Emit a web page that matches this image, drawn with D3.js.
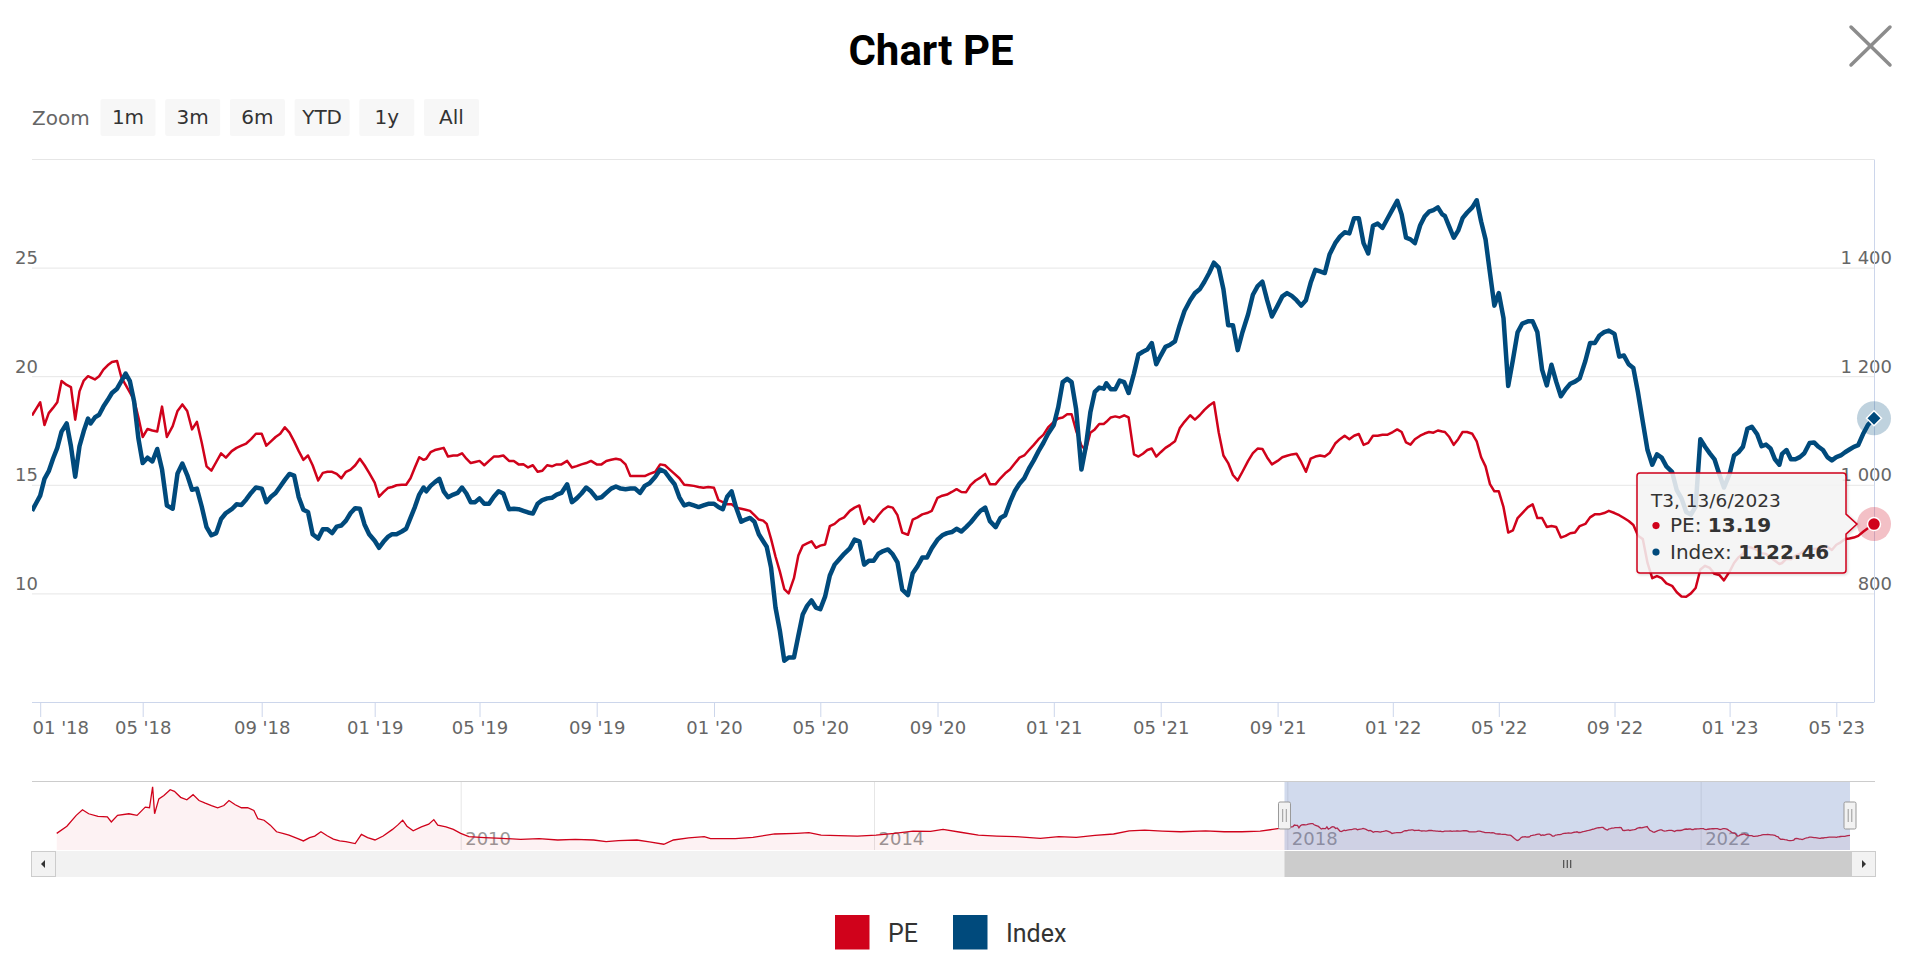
<!DOCTYPE html>
<html>
<head>
<meta charset="utf-8">
<script src="https://cdn.jsdelivr.net/npm/d3@7"></script>
<style>
  html, body { margin: 0; padding: 0; background: #ffffff; }
  svg { display: block; }
</style>
</head>
<body>
<svg id="chart" width="1920" height="958"></svg>
<script>
// ------------------------------------------------------------------
// DATA
// ------------------------------------------------------------------
const chartTitle = "Chart PE";
const seriesNames = ["PE", "Index"];
const rangeButtons = ["1m", "3m", "6m", "YTD", "1y", "All"];

const xTickDates = ["2018-01-01","2018-05-01","2018-09-01","2019-01-01","2019-05-01","2019-09-01",
  "2020-01-01","2020-05-01","2020-09-01","2021-01-01","2021-05-01","2021-09-01","2022-01-01",
  "2022-05-01","2022-09-01","2023-01-01","2023-05-01"];
const leftTicks = [10, 15, 20, 25];
const leftGrid = [10, 15, 20, 25, 30];
const rightTicks = [800, 1000, 1200, 1400];
const navYearTicks = ["2010-01-01", "2014-01-01", "2018-01-01", "2022-01-01"];

const dates = [
"2017-12-22","2017-12-27",
"2018-01-01","2018-01-06","2018-01-11","2018-01-16","2018-01-21","2018-01-26",
"2018-02-01","2018-02-06","2018-02-11","2018-02-16","2018-02-21","2018-02-26",
"2018-03-01","2018-03-06","2018-03-11","2018-03-16","2018-03-21","2018-03-26",
"2018-04-01","2018-04-06","2018-04-11","2018-04-16","2018-04-21","2018-04-26",
"2018-05-01","2018-05-06","2018-05-11","2018-05-16","2018-05-21","2018-05-26",
"2018-06-01","2018-06-06","2018-06-11","2018-06-16","2018-06-21","2018-06-26",
"2018-07-01","2018-07-06","2018-07-11","2018-07-16","2018-07-21","2018-07-26",
"2018-08-01","2018-08-06","2018-08-11","2018-08-16","2018-08-21","2018-08-26",
"2018-09-01","2018-09-06","2018-09-11","2018-09-16","2018-09-21","2018-09-26",
"2018-10-01","2018-10-06","2018-10-11","2018-10-16","2018-10-21","2018-10-26",
"2018-11-01","2018-11-06","2018-11-11","2018-11-16","2018-11-21","2018-11-26",
"2018-12-01","2018-12-06","2018-12-11","2018-12-16","2018-12-21","2018-12-26",
"2019-01-01","2019-01-06","2019-01-11","2019-01-16","2019-01-21","2019-01-26",
"2019-02-01","2019-02-06","2019-02-11","2019-02-16","2019-02-21","2019-02-26",
"2019-03-01","2019-03-06","2019-03-11","2019-03-16","2019-03-21","2019-03-26",
"2019-04-01","2019-04-06","2019-04-11","2019-04-16","2019-04-21","2019-04-26",
"2019-05-01","2019-05-06","2019-05-11","2019-05-16","2019-05-21","2019-05-26",
"2019-06-01","2019-06-06","2019-06-11","2019-06-16","2019-06-21","2019-06-26",
"2019-07-01","2019-07-06","2019-07-11","2019-07-16","2019-07-21","2019-07-26",
"2019-08-01","2019-08-06","2019-08-11","2019-08-16","2019-08-21","2019-08-26",
"2019-09-01","2019-09-06","2019-09-11","2019-09-16","2019-09-21","2019-09-26",
"2019-10-01","2019-10-06","2019-10-11","2019-10-16","2019-10-21","2019-10-26",
"2019-11-01","2019-11-06","2019-11-11","2019-11-16","2019-11-21","2019-11-26",
"2019-12-01","2019-12-06","2019-12-11","2019-12-16","2019-12-21","2019-12-26",
"2020-01-01","2020-01-06","2020-01-11","2020-01-16","2020-01-21","2020-01-26",
"2020-02-01","2020-02-06","2020-02-11","2020-02-16","2020-02-21","2020-02-26",
"2020-03-01","2020-03-06","2020-03-11","2020-03-16","2020-03-21","2020-03-26",
"2020-04-01","2020-04-06","2020-04-11","2020-04-16","2020-04-21","2020-04-26",
"2020-05-01","2020-05-06","2020-05-11","2020-05-16","2020-05-21","2020-05-26",
"2020-06-01","2020-06-06","2020-06-11","2020-06-16","2020-06-21","2020-06-26",
"2020-07-01","2020-07-06","2020-07-11","2020-07-16","2020-07-21","2020-07-26",
"2020-08-01","2020-08-06","2020-08-11","2020-08-16","2020-08-21","2020-08-26",
"2020-09-01","2020-09-06","2020-09-11","2020-09-16","2020-09-21","2020-09-26",
"2020-10-01","2020-10-06","2020-10-11","2020-10-16","2020-10-21","2020-10-26",
"2020-11-01","2020-11-06","2020-11-11","2020-11-16","2020-11-21","2020-11-26",
"2020-12-01","2020-12-06","2020-12-11","2020-12-16","2020-12-21","2020-12-26",
"2021-01-01","2021-01-06","2021-01-11","2021-01-16","2021-01-21","2021-01-26",
"2021-02-01","2021-02-06","2021-02-11","2021-02-16","2021-02-21","2021-02-26",
"2021-03-01","2021-03-06","2021-03-11","2021-03-16","2021-03-21","2021-03-26",
"2021-04-01","2021-04-06","2021-04-11","2021-04-16","2021-04-21","2021-04-26",
"2021-05-01","2021-05-06","2021-05-11","2021-05-16","2021-05-21","2021-05-26",
"2021-06-01","2021-06-06","2021-06-11","2021-06-16","2021-06-21","2021-06-26",
"2021-07-01","2021-07-06","2021-07-11","2021-07-16","2021-07-21","2021-07-26",
"2021-08-01","2021-08-06","2021-08-11","2021-08-16","2021-08-21","2021-08-26",
"2021-09-01","2021-09-06","2021-09-11","2021-09-16","2021-09-21","2021-09-26",
"2021-10-01","2021-10-06","2021-10-11","2021-10-16","2021-10-21","2021-10-26",
"2021-11-01","2021-11-06","2021-11-11","2021-11-16","2021-11-21","2021-11-26",
"2021-12-01","2021-12-06","2021-12-11","2021-12-16","2021-12-21","2021-12-26",
"2022-01-01","2022-01-06","2022-01-11","2022-01-16","2022-01-21","2022-01-26",
"2022-02-01","2022-02-06","2022-02-11","2022-02-16","2022-02-21","2022-02-26",
"2022-03-01","2022-03-06","2022-03-11","2022-03-16","2022-03-21","2022-03-26",
"2022-04-01","2022-04-06","2022-04-11","2022-04-16","2022-04-21","2022-04-26",
"2022-05-01","2022-05-06","2022-05-11","2022-05-16","2022-05-21","2022-05-26",
"2022-06-01","2022-06-06","2022-06-11","2022-06-16","2022-06-21","2022-06-26",
"2022-07-01","2022-07-06","2022-07-11","2022-07-16","2022-07-21","2022-07-26",
"2022-08-01","2022-08-06","2022-08-11","2022-08-16","2022-08-21","2022-08-26",
"2022-09-01","2022-09-06","2022-09-11","2022-09-16","2022-09-21","2022-09-26",
"2022-10-01","2022-10-06","2022-10-11","2022-10-16","2022-10-21","2022-10-26",
"2022-11-01","2022-11-06","2022-11-11","2022-11-16","2022-11-21","2022-11-26",
"2022-12-01","2022-12-06","2022-12-11","2022-12-16","2022-12-21","2022-12-26",
"2023-01-01","2023-01-06","2023-01-11","2023-01-16","2023-01-21","2023-01-26",
"2023-02-01","2023-02-06","2023-02-11","2023-02-16","2023-02-21","2023-02-26",
"2023-03-01","2023-03-06","2023-03-11","2023-03-16","2023-03-21","2023-03-26",
"2023-04-01","2023-04-06","2023-04-11","2023-04-16","2023-04-21","2023-04-26",
"2023-05-01","2023-05-06","2023-05-11","2023-05-16","2023-05-21","2023-05-26",
"2023-06-01","2023-06-06","2023-06-13"
];

const peValues = [
18.19,18.5,
18.8,17.75,18.3,18.54,18.8,19.78,
19.6,19.5,18.0,19.3,19.8,20.0,
19.95,19.85,20.0,20.3,20.5,20.65,
20.7,19.95,19.6,19.25,18.9,18.1,
17.2,17.57,17.5,17.45,18.6,17.2,
17.7,18.4,18.7,18.4,17.55,17.9,
16.95,15.85,15.65,16.05,16.45,16.25,
16.55,16.7,16.8,16.9,17.1,17.35,
17.35,16.8,17.0,17.2,17.35,17.65,
17.4,17.0,16.55,16.15,16.35,15.9,
15.2,15.55,15.6,15.6,15.5,15.3,
15.6,15.7,15.9,16.2,15.9,15.55,
15.1,14.45,14.66,14.85,14.9,14.98,
15.0,15.0,15.3,15.8,16.27,16.15,
16.2,16.5,16.6,16.65,16.7,16.3,
16.35,16.35,16.45,16.2,16.0,16.05,
16.1,15.9,16.1,16.3,16.3,16.35,
16.1,16.1,15.94,15.95,15.8,15.9,
15.6,15.65,15.9,15.85,15.94,15.94,
16.1,15.8,15.86,15.94,16.0,16.1,
15.94,15.94,16.1,16.15,16.2,16.15,
15.94,15.4,15.4,15.4,15.4,15.5,
15.6,15.94,15.9,15.7,15.5,15.3,
15.0,14.98,14.95,14.9,14.86,14.9,
14.86,14.3,14.2,14.1,14.1,13.95,
13.9,13.85,13.8,13.6,13.4,13.35,
13.2,12.5,11.7,11.0,10.2,10.0,
10.7,11.75,12.2,12.3,12.4,12.1,
12.2,12.25,13.1,13.2,13.4,13.5,
13.8,13.95,14.05,13.2,13.5,13.3,
13.6,13.85,14.0,13.95,13.6,12.8,
12.7,13.4,13.5,13.64,13.7,13.8,
14.4,14.5,14.55,14.67,14.8,14.67,
14.66,15.0,15.2,15.33,15.5,15.03,
15.03,15.3,15.53,15.7,15.98,16.25,
16.35,16.6,16.84,17.1,17.3,17.64,
17.9,18.05,18.1,18.25,18.25,17.5,
16.8,16.6,17.4,17.55,17.8,17.8,
17.9,18.1,18.15,18.1,18.2,18.1,
16.4,16.3,16.43,16.6,16.67,16.3,
16.5,16.7,16.84,17.0,17.6,17.9,
18.2,18.0,18.2,18.45,18.65,18.8,
17.42,16.35,16.0,15.45,15.2,15.6,
16.1,16.46,16.67,16.65,16.26,15.94,
16.1,16.27,16.34,16.4,16.43,16.05,
15.6,16.2,16.3,16.35,16.3,16.46,
16.9,17.1,17.26,17.1,17.26,17.34,
16.84,16.93,17.26,17.26,17.3,17.3,
17.43,17.55,17.43,16.95,16.85,17.1,
17.26,17.36,17.43,17.4,17.5,17.45,
17.43,17.2,16.84,17.1,17.43,17.43,
17.35,17.0,16.27,15.85,15.03,14.7,
14.7,13.97,12.8,12.9,13.47,13.7,
13.97,14.1,13.47,13.47,13.06,13.1,
13.06,12.57,12.65,12.77,12.8,13.1,
13.2,13.5,13.64,13.64,13.7,13.8,
13.7,13.6,13.47,13.33,13.15,12.65,
12.5,11.4,10.7,10.8,10.7,10.46,
10.35,10.05,9.86,9.85,10.0,10.25,
11.1,11.27,11.17,10.9,10.85,10.6,
11.0,11.4,11.66,11.83,12.15,12.1,
12.0,11.85,11.82,11.65,11.5,11.35,
11.4,11.6,11.57,11.74,11.82,11.98,
12.07,12.05,12.07,12.1,12.15,12.0,
12.24,12.35,12.5,12.53,12.57,12.65,
12.85,13.0,13.19
];

const indexValues = [
952,966,
980,1011,1025,1048,1068,1098,
1113,1071,1015,1071,1099,1122,
1113,1124,1129,1144,1156,1169,
1177,1191,1205,1191,1153,1085,
1040,1050,1043,1066,1028,962,
956,1021,1039,1018,991,993,
960,922,907,911,937,948,
955,964,963,973,985,995,
993,968,978,985,997,1009,
1020,1017,977,954,950,909,
901,918,918,911,923,925,
934,948,957,956,927,909,
897,884,895,904,909,909,
914,919,939,959,982,995,
988,998,1005,1011,988,977,
982,985,995,984,968,968,
975,965,965,978,988,984,
955,956,955,952,949,947,
965,972,975,976,982,985,
1001,968,975,984,995,988,
975,977,985,993,997,993,
992,993,993,985,998,1003,
1015,1028,1024,1012,1001,977,
962,965,962,959,962,965,
965,959,955,978,988,959,
932,936,939,932,909,896,
886,847,774,731,676,682,
682,722,761,777,787,774,
771,794,833,853,863,873,
883,899,896,853,860,860,
873,878,881,872,857,807,
797,837,850,866,866,883,
899,907,911,913,919,914,
922,931,942,952,958,933,
922,939,944,968,988,1002,
1012,1030,1045,1062,1077,1094,
1110,1143,1189,1195,1189,1140,
1028,1071,1133,1171,1179,1177,
1187,1176,1176,1192,1189,1169,
1205,1240,1245,1249,1261,1222,
1238,1254,1258,1264,1294,1320,
1340,1353,1360,1374,1390,1409,
1400,1360,1294,1294,1248,1281,
1314,1350,1366,1374,1340,1310,
1330,1347,1353,1348,1340,1330,
1340,1372,1396,1393,1390,1424,
1445,1457,1465,1463,1491,1491,
1445,1426,1477,1481,1473,1489,
1508,1523,1498,1455,1452,1445,
1478,1494,1503,1506,1511,1498,
1495,1475,1455,1468,1491,1501,
1511,1524,1485,1452,1390,1330,
1353,1307,1182,1230,1281,1297,
1301,1301,1281,1212,1183,1221,
1190,1163,1176,1186,1190,1196,
1228,1261,1261,1275,1281,1284,
1278,1236,1238,1222,1215,1169,
1116,1064,1037,1056,1050,1034,
1024,990,975,950,945,960,
1084,1070,1058,1047,1020,995,
1020,1054,1060,1070,1103,1107,
1093,1071,1074,1067,1047,1037,
1057,1064,1047,1047,1051,1058,
1077,1078,1070,1064,1051,1045,
1051,1054,1060,1065,1070,1073,
1095,1110,1122.46
];

// Earlier PE history shown only in the navigator
const navHistDates = [
"2006-02-03","2006-03-11","2006-04-13","2006-05-05","2006-05-27","2006-06-29","2006-08-01","2006-08-15","2006-09-06","2006-10-16","2006-11-14","2006-12-13","2006-12-28",
"2007-01-08","2007-01-15","2007-01-30","2007-02-17","2007-03-11","2007-03-26","2007-04-17","2007-05-09","2007-05-31","2007-06-21","2007-07-13","2007-08-04","2007-08-26","2007-09-17","2007-10-05","2007-10-27","2007-11-18","2007-12-10",
"2008-01-01","2008-01-15","2008-02-06","2008-02-28","2008-03-21","2008-04-12","2008-05-04","2008-06-02","2008-06-24","2008-07-16","2008-08-03","2008-08-25","2008-09-16","2008-10-08","2008-10-30","2008-11-21","2008-12-24",
"2009-01-15","2009-02-06","2009-03-04","2009-04-02","2009-05-05","2009-05-23","2009-06-10","2009-06-25","2009-07-17","2009-08-15","2009-09-10","2009-09-28","2009-10-12","2009-11-10","2009-12-06",
"2010-01-01","2010-01-30","2010-03-26","2010-05-27","2010-08-01","2010-10-05","2010-12-10",
"2011-02-10","2011-04-16","2011-05-30","2011-07-13","2011-09-16","2011-10-30","2011-12-20",
"2012-01-23","2012-03-17","2012-05-11","2012-06-02","2012-08-29","2012-10-30",
"2013-01-15","2013-04-02","2013-05-16","2013-06-28","2013-08-29","2013-11-03",
"2014-01-08","2014-03-14","2014-05-19","2014-07-20","2014-09-02","2014-11-03",
"2015-01-05","2015-03-11","2015-05-16","2015-08-12","2015-10-16","2015-12-17",
"2016-02-21","2016-04-27","2016-06-21","2016-08-15","2016-10-16","2016-12-20",
"2017-03-18","2017-05-23","2017-07-24","2017-09-27","2017-11-10"
];
const navHistPe = [
14.5,19.0,25.9,29.4,26.9,25.3,24.9,21.7,25.9,26.9,25.9,31.1,30.7,
44.0,26.9,36.3,38.4,42.1,41.1,37.3,35.7,39.0,35.3,33.6,32.1,30.7,32.1,35.3,32.6,30.7,30.7,
29.0,23.8,22.8,19.7,15.5,14.5,13.4,11.3,9.7,11.8,12.8,15.5,13.0,10.9,9.7,9.3,8.0,
13.8,11.8,10.3,12.8,17.0,19.7,22.8,19.0,16.1,18.6,20.3,23.2,19.7,18.6,17.0,
14.5,12.4,11.8,11.3,10.7,11.1,10.3,
10.7,10.3,9.3,9.9,10.3,9.1,7.6,
10.3,11.6,12.4,11.1,11.1,12.0,
14.1,14.5,14.9,13.4,13.0,12.8,
13.4,14.5,15.9,15.7,17.0,15.2,
13.4,12.8,12.4,11.3,12.4,12.0,
13.2,14.1,16.1,16.5,15.9,15.5,
16.1,15.5,15.5,15.9,17.0
];

const tooltipHeader = "T3, 13/6/2023";

// ------------------------------------------------------------------
// LAYOUT & STYLE
// ------------------------------------------------------------------
const RED = "#d0021b", BLUE = "#004a7c";
const AXIS_FONT = "'DejaVu Sans', sans-serif";
const plot = { left: 32, right: 1874, top: 159, bottom: 702 };
// Ordinal (trading-day) axis calibration: date breakpoints -> pixel positions
const axisBreakDates = ["2017-12-22"].concat(xTickDates, ["2023-06-13"]);
const axisBreakPx = [32, 40.2, 142.7, 261.7, 374.7, 479.5, 596.7, 714, 820.3, 937.5, 1053.8,
  1160.7, 1277.6, 1392.8, 1498.8, 1614.5, 1729.6, 1836.3, 1874];
const nav = { left: 57, right: 1850, top: 781, bottom: 850, outerLeft: 31, outerRight: 1875,
  scrollTop: 851, scrollBottom: 877 };

const parse = d3.timeParse("%Y-%m-%d");
const svg = d3.select("#chart");

// ------------------------------------------------------------------
// SCALES
// ------------------------------------------------------------------
const x = d3.scaleTime().domain(axisBreakDates.map(parse)).range(axisBreakPx);
const yLeft = d3.scaleLinear().domain([5, 30]).range([plot.bottom, plot.top]);
const yRight = d3.scaleLinear().domain([600, 1600]).range([plot.bottom, plot.top]);

const mainData = dates.map((d, i) => ({ date: parse(d), pe: peValues[i], idx: indexValues[i] }));

// ------------------------------------------------------------------
// TITLE, CLOSE BUTTON, RANGE SELECTOR
// ------------------------------------------------------------------
svg.append("text").attr("x", 931).attr("y", 65).attr("text-anchor", "middle")
  .attr("font-family", "Roboto, 'Liberation Sans', sans-serif").attr("font-weight", 700)
  .attr("font-size", 42).attr("fill", "#000").text(chartTitle);

const closeG = svg.append("g").attr("stroke", "#8c8c8c").attr("stroke-width", 3.5).attr("stroke-linecap", "round");
closeG.append("line").attr("x1", 1851).attr("y1", 27).attr("x2", 1890).attr("y2", 65);
closeG.append("line").attr("x1", 1890).attr("y1", 27).attr("x2", 1851).attr("y2", 65);

svg.append("text").attr("x", 32).attr("y", 125).attr("font-family", AXIS_FONT)
  .attr("font-size", 20).attr("fill", "#666").text("Zoom");
const btnG = svg.append("g").selectAll("g").data(rangeButtons).join("g")
  .attr("transform", (d, i) => `translate(${100.5 + i * 64.7},99)`);
btnG.append("rect").attr("width", 55).attr("height", 37).attr("rx", 2).attr("fill", "#f7f7f7");
btnG.append("text").attr("x", 27.5).attr("y", 24.5).attr("text-anchor", "middle")
  .attr("font-family", AXIS_FONT).attr("font-size", 20).attr("fill", "#333").text(d => d);

// ------------------------------------------------------------------
// GRID & AXES
// ------------------------------------------------------------------
const gridG = svg.append("g").attr("transform", `translate(${plot.left},0)`)
  .call(d3.axisLeft(yLeft).tickValues(leftGrid).tickSize(-(plot.right - plot.left)).tickFormat(""));
gridG.select(".domain").remove();
gridG.selectAll("line").attr("stroke", "#e6e6e6");

const leftAx = svg.append("g").attr("transform", "translate(15,0)")
  .call(d3.axisRight(yLeft).tickValues(leftTicks).tickSize(0).tickPadding(0));
leftAx.select(".domain").remove();
leftAx.selectAll("text").attr("dy", null).attr("y", -4).attr("x", 0).attr("text-anchor", "start")
  .attr("font-family", AXIS_FONT).attr("font-size", 18).attr("fill", "#666");

const spaceFmt = d3.formatLocale({ decimal: ".", thousands: " ", grouping: [3], currency: ["", ""] }).format(",");
const rightAx = svg.append("g").attr("transform", "translate(1892,0)")
  .call(d3.axisLeft(yRight).tickValues(rightTicks).tickSize(0).tickPadding(0).tickFormat(spaceFmt));
rightAx.select(".domain").remove();
rightAx.selectAll("text").attr("dy", null).attr("y", -4).attr("x", 0).attr("text-anchor", "end")
  .attr("font-family", AXIS_FONT).attr("font-size", 18).attr("fill", "#666");

const rightLine = svg.append("g").attr("transform", `translate(${plot.right},0)`)
  .call(d3.axisRight(yRight).tickValues([]).tickSizeOuter(0));
rightLine.select(".domain").attr("stroke", "#ccd6eb");

const xAx = svg.append("g").attr("transform", `translate(0,${plot.bottom})`)
  .call(d3.axisBottom(x).tickValues(xTickDates.map(parse)).tickSize(15).tickSizeOuter(0)
    .tickFormat(d3.timeFormat("%m '%y")));
xAx.select(".domain").attr("stroke", "#ccd6eb").attr("d", `M${plot.left},0.5H${plot.right}`);
xAx.selectAll(".tick line").attr("stroke", "#ccd6eb");
xAx.selectAll("text").attr("dy", null).attr("y", 32)
  .attr("font-family", AXIS_FONT).attr("font-size", 18).attr("fill", "#666");
xAx.selectAll(".tick").each(function (d) {
  const t = d3.select(this).select("text");
  const w = t.node().getComputedTextLength();
  const tx = x(d);
  if (tx - w / 2 < plot.left) t.attr("x", plot.left - tx + w / 2);
});

// ------------------------------------------------------------------
// SERIES
// ------------------------------------------------------------------
svg.append("clipPath").attr("id", "plotClip").append("rect")
  .attr("x", plot.left).attr("y", plot.top - 5).attr("width", plot.right - plot.left + 6)
  .attr("height", plot.bottom - plot.top + 5);
const seriesG = svg.append("g").attr("clip-path", "url(#plotClip)");

const linePe = d3.line().x(d => x(d.date)).y(d => yLeft(d.pe));
const lineIdx = d3.line().x(d => x(d.date)).y(d => yRight(d.idx));

seriesG.append("path").datum(mainData).attr("d", linePe).attr("fill", "none")
  .attr("stroke", RED).attr("stroke-width", 2.5).attr("stroke-linejoin", "round");
seriesG.append("path").datum(mainData).attr("d", lineIdx).attr("fill", "none")
  .attr("stroke", BLUE).attr("stroke-width", 4.5).attr("stroke-linejoin", "round");

// ------------------------------------------------------------------
// HOVER MARKERS + TOOLTIP (last point)
// ------------------------------------------------------------------
const last = mainData[mainData.length - 1];
const lx = x(last.date), lyPe = yLeft(last.pe), lyIdx = yRight(last.idx);

svg.append("circle").attr("cx", lx).attr("cy", lyIdx).attr("r", 17).attr("fill", BLUE).attr("fill-opacity", 0.25);
svg.append("path").attr("d", `M${lx},${lyIdx - 7.5}L${lx + 7.5},${lyIdx}L${lx},${lyIdx + 7.5}L${lx - 7.5},${lyIdx}Z`)
  .attr("fill", BLUE).attr("stroke", "#fff").attr("stroke-width", 1.5);
svg.append("circle").attr("cx", lx).attr("cy", lyPe).attr("r", 17).attr("fill", RED).attr("fill-opacity", 0.25);
svg.append("circle").attr("cx", lx).attr("cy", lyPe).attr("r", 6.5).attr("fill", RED)
  .attr("stroke", "#fff").attr("stroke-width", 1.5);

const defs = svg.append("defs");
const filt = defs.append("filter").attr("id", "tipShadow").attr("x", "-10%").attr("y", "-10%")
  .attr("width", "130%").attr("height", "140%");
filt.append("feDropShadow").attr("dx", 1).attr("dy", 1).attr("stdDeviation", 1.5)
  .attr("flood-color", "#000").attr("flood-opacity", 0.18);

const tipR = lx - 28, tipL = tipR - 209, tipT = lyPe - 51, tipB = lyPe + 49, tipTip = lx - 17, rr = 3;
const tipPath = `M${tipL + rr},${tipT}H${tipR - rr}Q${tipR},${tipT} ${tipR},${tipT + rr}` +
  `V${lyPe - 10}L${tipTip},${lyPe}L${tipR},${lyPe + 10}` +
  `V${tipB - rr}Q${tipR},${tipB} ${tipR - rr},${tipB}H${tipL + rr}Q${tipL},${tipB} ${tipL},${tipB - rr}` +
  `V${tipT + rr}Q${tipL},${tipT} ${tipL + rr},${tipT}Z`;
svg.append("path").attr("d", tipPath).attr("fill", "rgba(247,247,247,0.85)")
  .attr("stroke", RED).attr("stroke-width", 1.5).attr("filter", "url(#tipShadow)");

const tipG = svg.append("g").attr("font-family", AXIS_FONT).attr("fill", "#333");
tipG.append("text").attr("x", tipL + 14).attr("y", tipT + 34).attr("font-size", 18.5).text(tooltipHeader);
const tipRows = [
  { name: seriesNames[0], value: d3.format(".2f")(last.pe), color: RED },
  { name: seriesNames[1], value: d3.format(".2f")(last.idx), color: BLUE }
];
tipRows.forEach((r, i) => {
  const by = tipT + 59 + i * 26.5;
  tipG.append("circle").attr("cx", tipL + 19).attr("cy", by - 6.5).attr("r", 3.6).attr("fill", r.color);
  const t = tipG.append("text").attr("x", tipL + 33).attr("y", by).attr("font-size", 20);
  t.append("tspan").text(r.name + ": ");
  t.append("tspan").attr("font-weight", 700).text(r.value);
});

// ------------------------------------------------------------------
// NAVIGATOR
// ------------------------------------------------------------------
const navData = navHistDates.map((d, i) => ({ date: parse(d), pe: navHistPe[i] }))
  .concat(mainData.map(d => ({ date: d.date, pe: d.pe })));
const xNav = d3.scaleTime().domain([parse("2006-02-04"), last.date]).range([nav.left, nav.right]);
const navExt = d3.extent(navData, d => d.pe);
const pad = (navExt[1] - navExt[0]) * 0.1;
const yNav = d3.scaleLinear().domain([navExt[0] - pad, navExt[1] + pad]).range([nav.bottom, nav.top]);

const navAx = svg.append("g").attr("transform", `translate(0,${nav.bottom})`)
  .call(d3.axisTop(xNav).tickValues(navYearTicks.map(parse)).tickSize(nav.bottom - nav.top).tickSizeOuter(0)
    .tickFormat(d3.timeFormat("%Y")));
navAx.select(".domain").remove();
navAx.selectAll(".tick line").attr("stroke", "#e6e6e6");
navAx.selectAll("text").attr("dy", null).attr("y", -5).attr("x", 4).attr("text-anchor", "start")
  .attr("font-family", AXIS_FONT).attr("font-size", 18).attr("fill", "#999");

const navArea = d3.area().x(d => xNav(d.date)).y0(nav.bottom).y1(d => yNav(d.pe));
const navLine = d3.line().x(d => xNav(d.date)).y(d => yNav(d.pe));
svg.append("path").datum(navData).attr("d", navArea).attr("fill", RED).attr("fill-opacity", 0.05);
svg.append("path").datum(navData).attr("d", navLine).attr("fill", "none").attr("stroke", RED)
  .attr("stroke-width", 1.3);

const selL = xNav(mainData[0].date), selR = xNav(last.date);
svg.append("rect").attr("x", selL).attr("y", nav.top).attr("width", selR - selL)
  .attr("height", nav.bottom - nav.top).attr("fill", "rgba(102,133,194,0.3)");
svg.append("line").attr("x1", nav.outerLeft + 1).attr("x2", nav.outerRight).attr("y1", nav.top + 0.5)
  .attr("y2", nav.top + 0.5).attr("stroke", "#cccccc");

svg.append("rect").attr("x", nav.outerLeft).attr("y", nav.scrollTop).attr("width", nav.outerRight - nav.outerLeft)
  .attr("height", nav.scrollBottom - nav.scrollTop).attr("fill", "#f2f2f2");
svg.append("rect").attr("x", selL).attr("y", nav.scrollTop).attr("width", selR - selL + 1)
  .attr("height", nav.scrollBottom - nav.scrollTop).attr("fill", "#cccccc");
const gripX = (selL + selR) / 2;
[-3.5, 0, 3.5].forEach(o => svg.append("line").attr("x1", gripX + o).attr("x2", gripX + o)
  .attr("y1", nav.scrollTop + 9).attr("y2", nav.scrollBottom - 9).attr("stroke", "#333").attr("stroke-width", 1));
[[nav.outerLeft, -1], [nav.right + 1, 1]].forEach(([bx, dir]) => {
  svg.append("rect").attr("x", bx + 0.5).attr("y", nav.scrollTop + 0.5).attr("width", 24)
    .attr("height", nav.scrollBottom - nav.scrollTop - 1).attr("fill", "#f2f2f2").attr("stroke", "#cccccc");
  const cx = bx + 12.5, cy = (nav.scrollTop + nav.scrollBottom) / 2;
  svg.append("path").attr("d", `M${cx + dir * 2.5},${cy}L${cx - dir * 1.5},${cy - 4}L${cx - dir * 1.5},${cy + 4}Z`)
    .attr("fill", "#333");
});
[selL, selR].forEach(hx => {
  const g = svg.append("g").attr("transform", `translate(${hx},802)`);
  g.append("rect").attr("x", -6).attr("y", 0).attr("width", 12).attr("height", 27).attr("rx", 1.5)
    .attr("fill", "#f2f2f2").attr("stroke", "#999");
  [-1.8, 1.8].forEach(o => g.append("line").attr("x1", o).attr("x2", o).attr("y1", 7).attr("y2", 20)
    .attr("stroke", "#999").attr("stroke-width", 1));
});

// ------------------------------------------------------------------
// LEGEND
// ------------------------------------------------------------------
const legendItems = [{ name: seriesNames[0], color: RED, x: 835 }, { name: seriesNames[1], color: BLUE, x: 953 }];
const lg = svg.append("g").selectAll("g").data(legendItems).join("g")
  .attr("transform", d => `translate(${d.x},915)`);
lg.append("rect").attr("width", 34.5).attr("height", 34.5).attr("fill", d => d.color);
lg.append("text").attr("x", 53).attr("y", 27).attr("font-family", "Roboto, 'Liberation Sans', sans-serif")
  .attr("font-size", 25).attr("fill", "#333").text(d => d.name);
</script>
</body>
</html>
